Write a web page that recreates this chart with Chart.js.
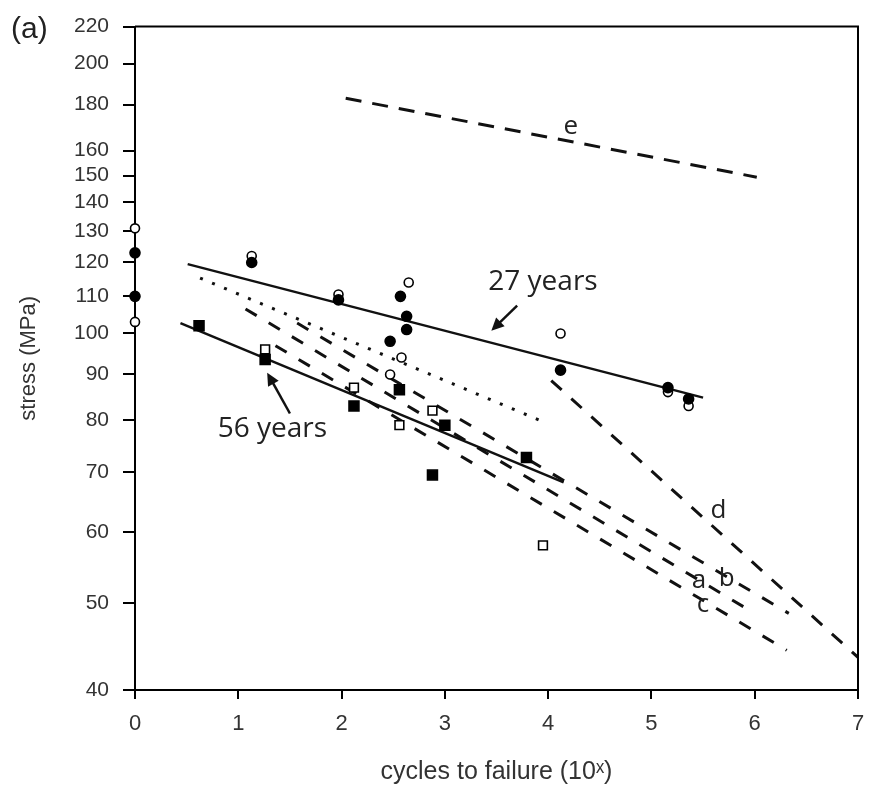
<!DOCTYPE html>
<html>
<head>
<meta charset="utf-8">
<script src="https://cdn.jsdelivr.net/npm/chart.js@4"></script>
<style>
  html, body { margin: 0; padding: 0; background: #fff; }
</style>
</head>
<body>
<canvas id="chart" width="870" height="787"></canvas>
<script>
const xTicks = [0, 1, 2, 3, 4, 5, 6, 7];
const yTicks = [40, 50, 60, 70, 80, 90, 100, 110, 120, 130, 140, 150, 160, 180, 200, 220];

// 27 years (circles)
const filledCircles = [[0, 123], [0, 110], [1.13, 120], [1.97, 109], [2.47, 98], [2.57, 110],
  [2.63, 104.5], [2.63, 101], [4.12, 91], [5.16, 87], [5.36, 84.5]];
const openCircles = [[0, 131], [0, 103], [1.13, 122], [1.97, 110.5], [2.65, 114], [2.58, 94],
  [2.47, 90], [4.12, 100], [5.16, 86], [5.36, 83]];

// 56 years (squares)
const filledSquares = [[0.62, 102], [1.26, 93.5], [2.12, 83], [2.56, 86.5], [3.0, 79], [3.79, 72.7], [2.88, 69.5]];
const openSquares = [[1.26, 96], [2.12, 87], [2.56, 79], [2.88, 82], [3.95, 58]];

// fitted / literature lines (end points)
const fit27 = [[0.51, 119.5], [5.5, 84.8]];
const fit56 = [[0.44, 102.7], [4.15, 68.2]];
const dottedFit = [[0.63, 115.3], [3.93, 79.9]];
const curveA = [[1.07, 106.5], [6.0, 48.7]];
const curveB = [[1.57, 102.7], [6.33, 48.7]];
const curveC = [[1.36, 96.9], [6.31, 44.3]];
const curveD = [[4.03, 88.6], [7.0, 43.5]];
const curveE = [[2.04, 183], [6.02, 149.4]];

const notes = [
  { text: '27 years', x: 3.95, y: 114.2, size: 28 },
  { text: '56 years', x: 1.33, y: 78.3, size: 28 },
  { text: 'e', x: 4.22, y: 170, size: 26 },
  { text: 'd', x: 5.65, y: 63.4, size: 26 },
  { text: 'a', x: 5.46, y: 53, size: 26 },
  { text: 'b', x: 5.73, y: 53.3, size: 26 },
  { text: 'c', x: 5.5, y: 49.8, size: 26 },
];
const arrows = [
  { from: [3.7, 107.4], to: [3.45, 100.7] },
  { from: [1.5, 81.4], to: [1.28, 90.4] },
];

const pts = (arr) => arr.map(([x, y]) => ({ x, y }));

const markers = (data, style, radius, fill) => ({
  data: pts(data),
  pointStyle: style,
  pointRadius: radius,
  pointBackgroundColor: fill,
  pointBorderColor: '#000',
  pointBorderWidth: 1.6,
  showLine: false,
  clip: false,
  order: 1,
});

const segment = (data, dash, width) => ({
  data: pts(data),
  showLine: true,
  borderColor: '#111',
  borderWidth: width,
  borderDash: dash,
  pointRadius: 0,
  order: 2,
});

const overlay = {
  id: 'overlay',
  afterDatasetsDraw(chart) {
    const { ctx, chartArea: a, scales: { x, y } } = chart;
    ctx.save();
    ctx.strokeStyle = '#000';
    ctx.lineWidth = 2;
    ctx.beginPath();
    ctx.moveTo(a.left, a.top);
    ctx.lineTo(a.right, a.top);
    ctx.lineTo(a.right, a.bottom);
    ctx.stroke();

    ctx.fillStyle = '#222';
    ctx.textAlign = 'center';
    ctx.textBaseline = 'middle';
    notes.forEach((n) => {
      ctx.font = n.size + 'px "Open Sans"';
      ctx.fillText(n.text, x.getPixelForValue(n.x), y.getPixelForValue(n.y));
    });

    ctx.strokeStyle = '#111';
    ctx.fillStyle = '#111';
    ctx.lineWidth = 2.5;
    arrows.forEach((ar) => {
      const x1 = x.getPixelForValue(ar.from[0]), y1 = y.getPixelForValue(ar.from[1]);
      const x2 = x.getPixelForValue(ar.to[0]), y2 = y.getPixelForValue(ar.to[1]);
      const ang = Math.atan2(y2 - y1, x2 - x1);
      ctx.beginPath();
      ctx.moveTo(x1, y1);
      ctx.lineTo(x2 - 8 * Math.cos(ang), y2 - 8 * Math.sin(ang));
      ctx.stroke();
      ctx.beginPath();
      ctx.moveTo(x2, y2);
      ctx.lineTo(x2 - 14 * Math.cos(ang - 0.45), y2 - 14 * Math.sin(ang - 0.45));
      ctx.lineTo(x2 - 14 * Math.cos(ang + 0.45), y2 - 14 * Math.sin(ang + 0.45));
      ctx.closePath();
      ctx.fill();
    });

    ctx.font = '30px "Liberation Sans"';
    ctx.fillStyle = '#222';
    ctx.textAlign = 'left';
    ctx.fillText('(a)', 11, 30);
    ctx.restore();
  },
};

const tickFont = { family: '"Liberation Sans", Arial, sans-serif', size: 21 };

new Chart(document.getElementById('chart'), {
  type: 'scatter',
  data: {
    datasets: [
      markers(filledCircles, 'circle', 5, '#000'),
      markers(openCircles, 'circle', 4.5, '#fff'),
      markers(filledSquares, 'rect', 7, '#000'),
      markers(openSquares, 'rect', 6.2, '#fff'),
      segment(fit27, [], 2.5),
      segment(fit56, [], 2.5),
      segment(dottedFit, [3, 10], 3),
      segment(curveA, [13, 14], 3),
      segment(curveB, [13, 14], 3),
      segment(curveC, [13, 14], 3),
      segment(curveD, [14, 13], 3),
      segment(curveE, [16, 11], 3),
    ],
  },
  options: {
    responsive: false,
    animation: false,
    layout: { padding: { top: 25, right: 12, left: 0, bottom: 0 } },
    plugins: { legend: { display: false }, tooltip: { enabled: false } },
    scales: {
      x: {
        type: 'linear',
        min: 0,
        max: 7,
        afterBuildTicks: (s) => { s.ticks = xTicks.map((v) => ({ value: v })); },
        afterFit: (s) => { s.height = 97; s.paddingRight = 8; s.paddingLeft = 0; },
        grid: { drawOnChartArea: false, color: '#000', lineWidth: 2, tickLength: 9 },
        border: { color: '#000', width: 2 },
        ticks: { color: '#333', font: { family: tickFont.family, size: 22 }, padding: 12, autoSkip: false, maxRotation: 0 },
        title: {
          display: true,
          text: 'cycles to failure (10ˣ)',
          color: '#333',
          font: { family: '"Liberation Sans", "DejaVu Sans", sans-serif', size: 25 },
          padding: { bottom: 0, top: 0 },
        },
      },
      y: {
        type: 'logarithmic',
        min: 40,
        max: 220,
        afterBuildTicks: (s) => { s.ticks = yTicks.map((v) => ({ value: v })); },
        afterFit: (s) => { s.width = 135; },
        grid: { drawOnChartArea: false, color: '#000', lineWidth: 2, tickLength: 12 },
        border: { color: '#000', width: 2 },
        ticks: { color: '#333', font: tickFont, padding: 14, autoSkip: false, callback: (v) => String(v) },
        title: {
          display: true,
          text: 'stress (MPa)',
          color: '#333',
          font: { family: '"Liberation Sans", sans-serif', size: 22 },
          padding: { top: 16, bottom: 0 },
        },
      },
    },
  },
  plugins: [overlay],
});
</script>
</body>
</html>
